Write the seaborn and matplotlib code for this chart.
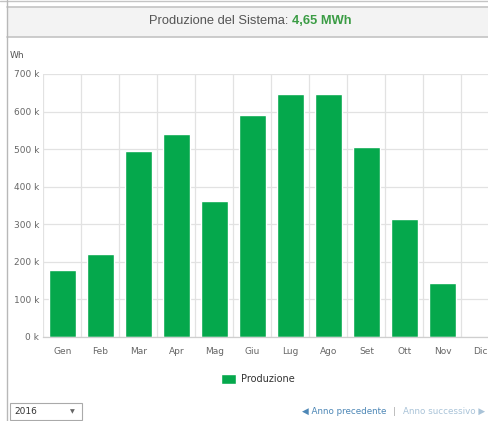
import numpy as np
import pandas as pd
import matplotlib
matplotlib.use('Agg')
import matplotlib.pyplot as plt
from matplotlib.patches import Rectangle
from matplotlib.ticker import FuncFormatter
import seaborn as sns

# monthly production (Wh)
months = ['Gen', 'Feb', 'Mar', 'Apr', 'Mag', 'Giu', 'Lug', 'Ago', 'Set', 'Ott', 'Nov', 'Dic']
production = [177000, 222000, 494000, 539000, 362000, 590000, 646000, 646000, 507000, 315000, 143000, 0]
series_name = 'Produzione'
total_label = '4,65 MWh'
year = '2016'

df = pd.DataFrame({'Mese': months, 'Wh': production})

sns.set_style('white')
plt.rcParams['font.family'] = ['DejaVu Sans']

W, H = 489, 421
fig = plt.figure(figsize=(W / 100, H / 100), dpi=100)

def fx(px):
    return px / W

def fy(py):
    return 1 - py / H

# page frame / header panel
fig.patches.append(Rectangle((fx(7), fy(37)), 1, fy(7) - fy(37), transform=fig.transFigure,
                             facecolor='#f3f3f3', edgecolor='none', zorder=0))
fig.add_artist(plt.Line2D([fx(7), 1], [fy(7), fy(7)], color='#c4c4c4', lw=1.2))
fig.add_artist(plt.Line2D([fx(7), 1], [fy(37), fy(37)], color='#c4c4c4', lw=1.2))
fig.add_artist(plt.Line2D([0, 1], [fy(1), fy(1)], color='#c4c4c4', lw=1))
fig.add_artist(plt.Line2D([fx(7), fx(7)], [0, 1], color='#b8b8b8', lw=1))

fig.text(fx(292), fy(21), 'Produzione del Sistema: ', ha='right', va='center',
         fontsize=9.3, color='#555555', family='Liberation Sans')
fig.text(fx(292), fy(21), total_label, ha='left', va='center',
         fontsize=9.3, color='#3a9c44', fontweight='bold', family='Liberation Sans')

fig.text(fx(10), fy(56), 'Wh', ha='left', va='center', fontsize=6.5, color='#555555')

# plot area
left, right, top, bottom = 43.5, 499.5, 74, 337
ax = fig.add_axes([fx(left), fy(bottom), fx(right - left), (bottom - top) / H])

sns.barplot(data=df, x='Mese', y='Wh', color='#05a84c', width=0.7, saturation=1,
            label=series_name, ax=ax)

ax.set_ylim(0, 700000)
ax.set_xlim(-0.5, 11.5)
ax.set_yticks(np.arange(0, 700001, 100000))
ax.yaxis.set_major_formatter(FuncFormatter(lambda v, p: f'{int(v / 1000)} k'))
ax.set_xticks(np.arange(-0.5, 12, 1), minor=True)
ax.grid(axis='y', which='major', color='#e2e2e2', lw=0.9)
ax.grid(axis='x', which='minor', color='#e2e2e2', lw=0.9)
ax.set_axisbelow(True)
ax.tick_params(axis='x', which='major', length=0, labelsize=6.5, labelcolor='#666666', pad=7)
ax.tick_params(axis='x', which='minor', length=5, color='#cfcfcf', width=0.8)
ax.tick_params(axis='y', length=0, labelsize=6.5, labelcolor='#666666', pad=3)
ax.set_xlabel('')
ax.set_ylabel('')
for s in ['top', 'right', 'left']:
    ax.spines[s].set_visible(False)
ax.spines['bottom'].set_color('#cfcfcf')
ax.spines['bottom'].set_linewidth(0.9)

leg = ax.legend(loc='center', bbox_to_anchor=(fx(258), fy(379)), bbox_transform=fig.transFigure,
                frameon=False, fontsize=7, handlelength=1.5, handleheight=1.3, handletextpad=0.5)
for t in leg.get_texts():
    t.set_color('#333333')

# year selector and navigation
fig.patches.append(Rectangle((fx(10), fy(420)), fx(72), (420 - 403) / H, transform=fig.transFigure,
                             facecolor='white', edgecolor='#aaaaaa', lw=0.8))
fig.text(fx(14), fy(411.5), year, ha='left', va='center', fontsize=6.5, color='#333333')
fig.text(fx(72), fy(411.5), '▼', ha='center', va='center', fontsize=4.5, color='#666666')
fig.text(fx(386), fy(411), '◀ Anno precedente', ha='right', va='center', fontsize=6.3, color='#4d87b6')
fig.text(fx(394), fy(411), '|', ha='center', va='center', fontsize=6.3, color='#aaaaaa')
fig.text(fx(403), fy(411), 'Anno successivo ▶', ha='left', va='center', fontsize=6.3, color='#a9c3d8')

fig.savefig('out.png', dpi=100)
